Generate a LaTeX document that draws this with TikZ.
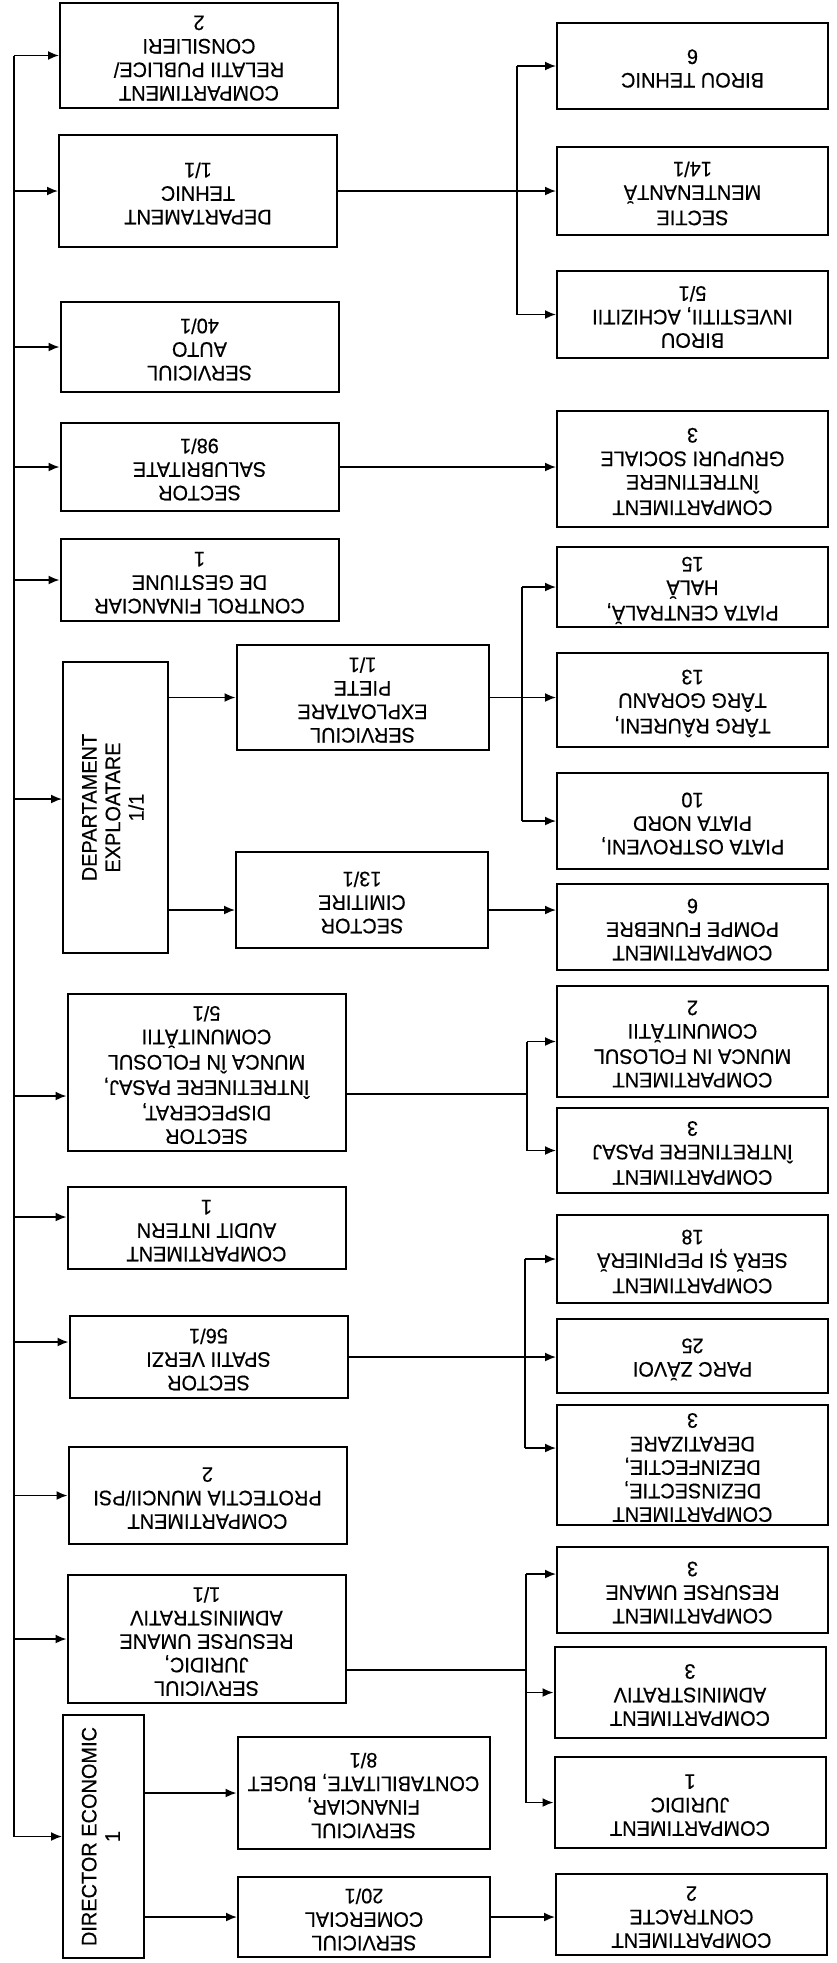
\documentclass[tikz,border=0pt]{standalone}
\usepackage{fontspec}
\setmainfont{Liberation Sans}[FakeStretch=0.95, FakeBold=0.4]
\usetikzlibrary{arrows.meta}

% box labels: upside down, or turned to read upwards
\newcommand{\flipped}[1]{\rotatebox{180}{\begin{tabular}{@{}c@{}}#1\end{tabular}}}
\newcommand{\sideways}[1]{\rotatebox{90}{\begin{tabular}{@{}c@{}}#1\end{tabular}}}

\begin{document}
\begin{tikzpicture}[x=1pt, y=-1pt,
  box/.style={draw, line width=2pt, fill=white, inner sep=0pt, font=\fontsize{21}{23.5}\selectfont},
  leftbox/.style={box, minimum width=278pt},
  midbox/.style={box, minimum width=252pt},
  rightbox/.style={box, minimum width=271pt},
  link/.style={line width=1.7pt},
  arr/.style={link, -{Latex[length=11pt,width=9pt]}}]
\useasboundingbox[fill=white] (0,0) rectangle (837,1963);

% Left column
\node[leftbox, minimum height=105pt] (relatii) at (199,55.5) {\flipped{COMPARTIMENT\\RELATII PUBLICE/\\CONSILIERI\\2}};
\node[leftbox, minimum height=112pt] (tehnic) at (198,191) {\flipped{DEPARTAMENT\\TEHNIC\\1/1}};
\node[leftbox, minimum height=90pt] (parcauto) at (199.5,347) {\flipped{SERVICIUL\\AUTO\\40/1}};
\node[leftbox, minimum height=88pt] (salubritate) at (199.5,467) {\flipped{SECTOR\\SALUBRITATE\\98/1}};
\node[leftbox, minimum height=82pt] (control) at (199.5,580) {\flipped{CONTROL FINANCIAR\\DE GESTIUNE\\1}};
\node[box, minimum width=105pt, minimum height=291pt] (exploatare) at (115.5,807.5) {\sideways{DEPARTAMENT\\EXPLOATARE\\1/1}};
\node[leftbox, minimum height=157pt] (dispecerat) at (206.5,1072.5) {\flipped{SECTOR\\DISPECERAT,\\ÎNTRETINERE PASAJ,\\MUNCA ÎN FOLOSUL\\COMUNITĂTII\\5/1}};
\node[leftbox, minimum height=82pt] (audit) at (206.5,1228) {\flipped{COMPARTIMENT\\AUDIT INTERN\\1}};
\node[leftbox, minimum height=82pt] (spatii) at (208.5,1357) {\flipped{SECTOR\\SPATII VERZI\\56/1}};
\node[leftbox, minimum height=97pt] (protectia) at (207.5,1495.5) {\flipped{COMPARTIMENT\\PROTECTIA MUNCII/PSI\\2}};
\node[leftbox, minimum height=128pt] (svjuridic) at (206.5,1639) {\flipped{SERVICIUL\\JURIDIC,\\RESURSE UMANE\\ADMINISTRATIV\\1/1}};
\node[box, minimum width=81pt, minimum height=243pt] (economic) at (103.5,1836.5) {\sideways{DIRECTOR ECONOMIC\\1}};

% Middle column
\node[midbox, minimum height=105pt] (piete) at (362.5,697.5) {\flipped{SERVICIUL\\EXPLOATARE\\PIETE\\1/1}};
\node[midbox, minimum height=96pt] (cimitire) at (362,900) {\flipped{SECTOR\\CIMITIRE\\13/1}};
\node[midbox, minimum height=112pt] (financiar) at (363.5,1793) {\flipped{SERVICIUL\\FINANCIAR,\\CONTABILITATE, BUGET\\8/1}};
\node[midbox, minimum height=80pt] (comercial) at (364,1917) {\flipped{SERVICIUL\\COMERCIAL\\20/1}};

% Right column
\node[rightbox, minimum height=86pt] (biroutehnic) at (692.5,66) {\flipped{BIROU TEHNIC\\6}};
\node[rightbox, minimum height=88pt] (mentenanta) at (692.5,191) {\flipped{SECTIE\\MENTENANTĂ\\14/1}};
\node[rightbox, minimum height=87pt] (investitii) at (692.5,314.5) {\flipped{BIROU\\INVESTITII, ACHIZITII\\5/1}};
\node[rightbox, minimum height=116pt] (grupuri) at (692.5,469) {\flipped{COMPARTIMENT\\ÎNTRETINERE\\GRUPURI SOCIALE\\3}};
\node[rightbox, minimum height=80pt] (centrala) at (692.5,587) {\flipped{PIATA CENTRALĂ,\\HALĂ\\15}};
\node[rightbox, minimum height=94pt] (targ) at (692.5,700) {\flipped{TÂRG RÂURENI,\\TÂRG GORANU\\13}};
\node[rightbox, minimum height=96pt] (ostroveni) at (692.5,821) {\flipped{PIATA OSTROVENI,\\PIATA NORD\\10}};
\node[rightbox, minimum height=86pt] (pompe) at (692.5,927) {\flipped{COMPARTIMENT\\POMPE FUNEBRE\\6}};
\node[rightbox, minimum height=111pt] (munca) at (692.5,1041.5) {\flipped{COMPARTIMENT\\MUNCA IN FOLOSUL\\COMUNITĂTII\\2}};
\node[rightbox, minimum height=85pt] (pasaj) at (692.5,1150.5) {\flipped{COMPARTIMENT\\ÎNTRETINERE PASAJ\\3}};
\node[rightbox, minimum height=88pt] (sera) at (692.5,1259) {\flipped{COMPARTIMENT\\SERĂ ȘI PEPINIERĂ\\18}};
\node[rightbox, minimum height=74pt] (parc) at (692.5,1356) {\flipped{PARC ZĂVOI\\25}};
\node[rightbox, minimum height=120pt] (dezinsectie) at (692.5,1465) {\flipped{COMPARTIMENT\\DEZINSECTIE,\\DEZINFECTIE,\\DERATIZARE\\3}};
\node[rightbox, minimum height=86pt] (resurse) at (692.5,1590) {\flipped{COMPARTIMENT\\RESURSE UMANE\\3}};
\node[rightbox, minimum height=91pt] (administrativ) at (690,1692.5) {\flipped{COMPARTIMENT\\ADMINISTRATIV\\3}};
\node[rightbox, minimum height=91pt] (cjuridic) at (690,1802.5) {\flipped{COMPARTIMENT\\JURIDIC\\1}};
\node[rightbox, minimum height=81pt] (contracte) at (691.5,1914.5) {\flipped{COMPARTIMENT\\CONTRACTE\\2}};

% Trunk on the left
\coordinate (trunk) at (14,0);
\coordinate (explin) at ([yshift=8.5pt]exploatare.west);
\coordinate (dispin) at ([yshift=-23.5pt]dispecerat.west);
\coordinate (auditin) at ([yshift=11pt]audit.west);
\coordinate (spatiiin) at ([yshift=15pt]spatii.west);
\draw[link] (trunk |- relatii.west) -- (trunk |- economic.west);
\foreach \n in {relatii,tehnic,parcauto,salubritate,control,explin,dispin,auditin,spatiiin,protectia,svjuridic,economic}
  \draw[arr] (trunk |- \n) -- (\n);

% Departament tehnic
\coordinate (bus1) at (517,0);
\draw[arr] (tehnic.east) -- (mentenanta.west |- tehnic.east);
\draw[link] (bus1 |- biroutehnic.west) -- (bus1 |- investitii.west);
\draw[arr] (bus1 |- biroutehnic.west) -- (biroutehnic.west);
\draw[arr] (bus1 |- investitii.west) -- (investitii.west);

% Salubritate
\draw[arr] (salubritate.east) -- (grupuri.west |- salubritate.east);

% Departament exploatare
\coordinate (cimin) at ([yshift=-10pt]cimitire.west);
\coordinate (cimout) at ([yshift=-10pt]cimitire.east);
\draw[arr] (exploatare.east |- piete.west) -- (piete.west);
\draw[arr] (exploatare.east |- cimin) -- (cimin);
\draw[arr] (cimout) -- (pompe.west |- cimout);
\coordinate (bus2) at (522,0);
\draw[arr] (piete.east) -- (targ.west |- piete.east);
\draw[link] (bus2 |- centrala.west) -- (bus2 |- ostroveni.west);
\draw[arr] (bus2 |- centrala.west) -- (centrala.west);
\draw[arr] (bus2 |- ostroveni.west) -- (ostroveni.west);

% Dispecerat
\coordinate (bus3) at (527,0);
\coordinate (dispout) at ([yshift=-21.5pt]dispecerat.east);
\draw[link] (dispout) -- (bus3 |- dispout);
\draw[link] (bus3 |- munca.west) -- (bus3 |- pasaj.west);
\draw[arr] (bus3 |- munca.west) -- (munca.west);
\draw[arr] (bus3 |- pasaj.west) -- (pasaj.west);

% Spatii verzi
\coordinate (bus4) at (525,0);
\coordinate (dezin) at ([yshift=17pt]dezinsectie.west);
\draw[arr] (spatii.east) -- (parc.west |- spatii.east);
\draw[link] (bus4 |- sera.west) -- (bus4 |- dezin);
\draw[arr] (bus4 |- sera.west) -- (sera.west);
\draw[arr] (bus4 |- dezin) -- (dezin);

% Serviciul juridic
\coordinate (bus5) at (526,0);
\coordinate (svout) at ([yshift=-31pt]svjuridic.east);
\coordinate (resin) at ([yshift=16pt]resurse.west);
\draw[link] (svout) -- (bus5 |- svout);
\draw[link] (bus5 |- resin) -- (bus5 |- cjuridic.west);
\draw[arr] (bus5 |- resin) -- (resin);
\draw[arr] (bus5 |- administrativ.west) -- (administrativ.west);
\draw[arr] (bus5 |- cjuridic.west) -- (cjuridic.west);

% Director economic
\draw[arr] (economic.east |- financiar.west) -- (financiar.west);
\draw[arr] (economic.east |- comercial.west) -- (comercial.west);
\draw[arr] (comercial.east) -- (contracte.west |- comercial.east);
\end{tikzpicture}
\end{document}
